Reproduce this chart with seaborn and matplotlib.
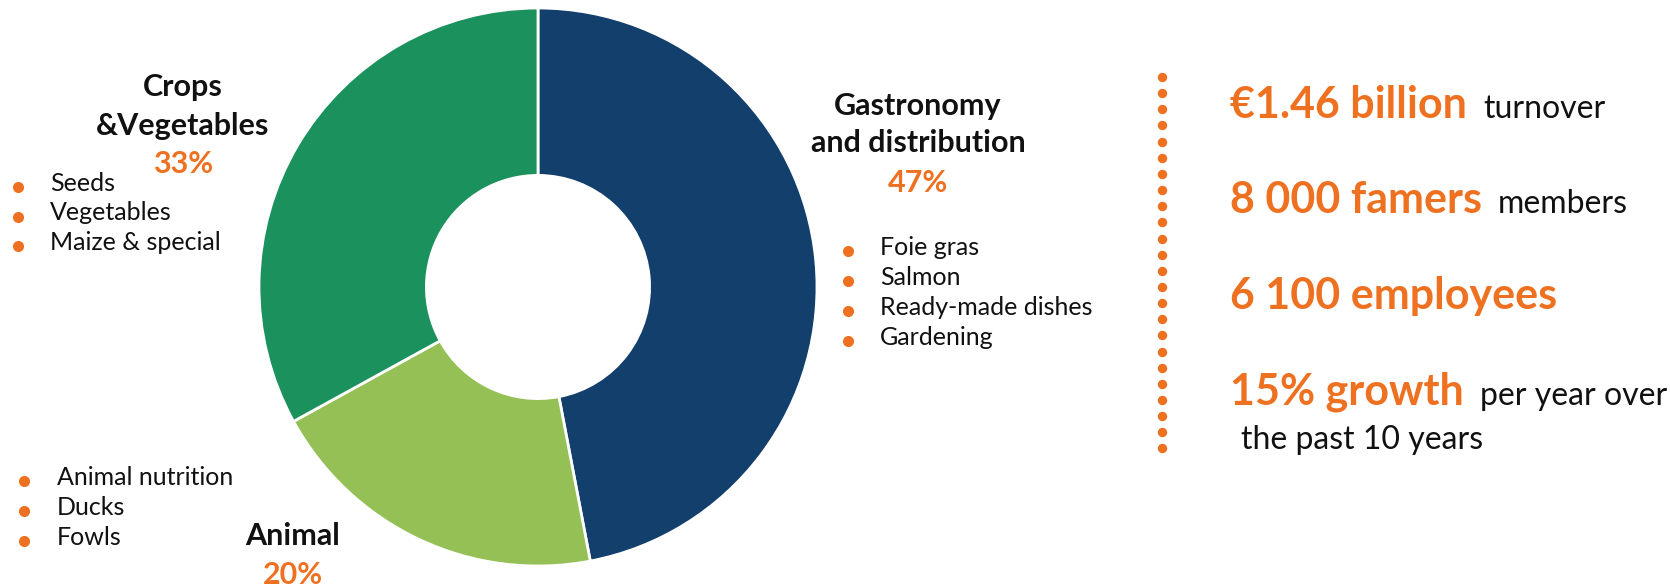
import matplotlib
matplotlib.use("Agg")
import matplotlib.pyplot as plt
import seaborn as sns

# segments of the turnover ring (clockwise from the top)
segments = ["Gastronomy\nand distribution", "Animal", "Crops\n&Vegetables"]
shares = [47, 20, 33]
seg_colors = ["#123f6b", "#95c055", "#1b915d"]

gastro_items = ["Foie gras", "Salmon", "Ready-made dishes", "Gardening"]
crops_items = ["Seeds", "Vegetables", "Maize & special"]
animal_items = ["Animal nutrition", "Ducks", "Fowls"]

key_figures = ["€1.46 billion", "8 000 famers", "6 100 employees", "15% growth"]
key_suffix = ["turnover", "members", "", "per year over"]
key_extra = "the past 10 years"

ORANGE = "#ee7121"
INK = "#111111"

sns.set_theme(style="white")
plt.rcParams["font.family"] = ["Lato", "DejaVu Sans"]

W, H = 1670, 586
fig = plt.figure(figsize=(W / 100, H / 100), dpi=100)

# donut
cx, cy, r = 538, 287, 279
ax_pie = fig.add_axes([(cx - r) / W, (H - cy - r) / H, 2 * r / W, 2 * r / H])
ax_pie.pie(shares, colors=seg_colors, startangle=90, counterclock=False,
           radius=1, wedgeprops=dict(width=0.6, edgecolor="white", linewidth=2))
ax_pie.set_xlim(-1, 1)
ax_pie.set_ylim(-1, 1)
ax_pie.axis("off")

# overlay in pixel coordinates for the text
ax = fig.add_axes([0, 0, 1, 1])
ax.set_xlim(0, W)
ax.set_ylim(H, 0)
ax.axis("off")


def header(label, pct, x, y0, step, pct_y, size=22):
    for i, line in enumerate(label.split("\n")):
        ax.text(x, y0 + i * step, line, ha="center", va="baseline",
                fontsize=size, fontweight="bold", color=INK)
    ax.text(x, pct_y, f"{pct}%", ha="center", va="baseline",
            fontsize=size, fontweight="bold", color=ORANGE)


def bullets(items, xb, xt, y0, step):
    for i, it in enumerate(items):
        y = y0 + i * step
        ax.plot(xb, y - 4, "o", ms=8, color=ORANGE, mec="none")
        ax.text(xt, y, it, ha="left", va="baseline", fontsize=18, color=INK)


header(segments[0], shares[0], 918, 115, 37, 192)
header(segments[2], shares[2], 183, 96, 39, 173)
header(segments[1], shares[1], 293, 545, 0, 584)

bullets(gastro_items, 848, 880, 255, 30)
bullets(crops_items, 18, 50, 191, 29.5)
bullets(animal_items, 24, 57, 485, 30)

# dotted separator
dots_y = [77 + i * 16.15 for i in range(24)]
ax.scatter([1162] * len(dots_y), dots_y, s=46, color=ORANGE, lw=0)

# key figures
fig.canvas.draw()
renderer = fig.canvas.get_renderer()
inv = ax.transData.inverted()
base_y = [118, 213, 309, 405]
for fig_txt, suf, y in zip(key_figures, key_suffix, base_y):
    t = ax.text(1230, y, fig_txt, ha="left", va="baseline", fontsize=31,
                fontweight="bold", color=ORANGE)
    if suf:
        bb = t.get_window_extent(renderer)
        x_end = inv.transform((bb.x1, bb.y0))[0]
        ax.text(x_end + 16, y, suf, ha="left", va="baseline", fontsize=23, color=INK)
ax.text(1241, 449, key_extra, ha="left", va="baseline", fontsize=23, color=INK)

fig.savefig("out.png", dpi=100, facecolor="white")
